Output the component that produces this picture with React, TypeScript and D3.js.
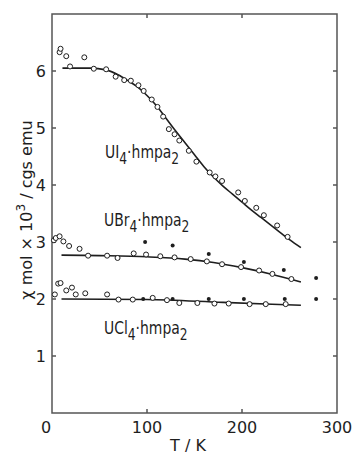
import React, { useEffect, useRef } from "react";
import * as d3 from "d3";

// UI4·hmpa2 measured points (T in K, chi x 10^3 cgs emu)
const uiT = [8, 9, 15, 19, 34, 44, 57, 67, 76, 83, 91, 96.5, 105, 111, 117, 123, 129, 134, 144, 152, 166, 172, 179, 196, 203, 215, 223, 237, 248];
const uiV = [6.33, 6.39, 6.26, 6.08, 6.24, 6.04, 6.03, 5.9, 5.84, 5.83, 5.75, 5.65, 5.5, 5.37, 5.2, 4.98, 4.89, 4.78, 4.6, 4.41, 4.22, 4.15, 4.07, 3.87, 3.72, 3.6, 3.47, 3.29, 3.09];
// UI4 fitted curve
const uiFitT = [11, 40, 57, 70, 80, 90, 100, 110, 120, 130, 140, 150, 160, 170, 180, 190, 200, 210, 220, 230, 240, 250, 262];
const uiFitV = [6.05, 6.05, 6.02, 5.93, 5.83, 5.72, 5.57, 5.39, 5.17, 4.95, 4.74, 4.53, 4.32, 4.14, 3.98, 3.84, 3.7, 3.56, 3.43, 3.3, 3.17, 3.04, 2.9];

// UBr4·hmpa2 open circles
const ubrT = [2, 4, 8, 12, 18, 29, 38, 58, 69, 86, 99, 114, 129, 146, 163, 179, 199, 218, 232, 252];
const ubrV = [3.03, 3.07, 3.1, 3.01, 2.93, 2.88, 2.76, 2.76, 2.72, 2.8, 2.78, 2.75, 2.73, 2.7, 2.66, 2.61, 2.56, 2.5, 2.44, 2.35];
// UBr4 filled dots
const ubrDotT = [98, 127, 165, 202, 244, 278];
const ubrDotV = [3.0, 2.94, 2.79, 2.65, 2.51, 2.37];
const ubrFitT = [10, 60, 100, 140, 170, 200, 230, 262];
const ubrFitV = [2.77, 2.76, 2.74, 2.7, 2.64, 2.55, 2.44, 2.3];

// UCl4·hmpa2 open circles
const uclT = [3, 6.5, 9, 15, 21, 25, 35, 58, 70, 85, 106, 121, 134, 153, 171, 186, 208, 225, 246];
const uclV = [2.08, 2.27, 2.28, 2.15, 2.2, 2.08, 2.1, 2.08, 1.99, 1.99, 2.02, 1.98, 1.93, 1.93, 1.92, 1.92, 1.91, 1.91, 1.91];
const uclDotT = [96, 127, 165, 202, 245, 278];
const uclDotV = [2.0, 2.0, 2.0, 2.0, 2.0, 2.0];
const uclFitT = [10, 100, 180, 262];
const uclFitV = [2.0, 1.99, 1.94, 1.89];

const yTicks = [1, 2, 3, 4, 5, 6];
const xTicks = [0, 100, 200, 300];
const xInnerTicks = [100, 200];

const zip = (a, b) => a.map((t, i) => [t, b[i]]);

export default function App() {
	const svgRef = useRef(null);

	useEffect(() => {
		const W = 352;
		const H = 454;
		const left = 52, right = 337, top = 14, bottom = 413;
		const font = "'DejaVu Sans', sans-serif";
		const ink = "#1e1e1e";

		const svg = d3.select(svgRef.current).attr("width", W).attr("height", H);

		const x = d3.scaleLinear().domain([0, 300]).range([left, right]);
		const y = d3.scaleLinear().domain([0, 7]).range([bottom, top]);

		// frame
		svg.append("rect")
			.attr("x", left)
			.attr("y", top)
			.attr("width", right - left)
			.attr("height", bottom - top)
			.attr("fill", "none")
			.attr("stroke", "#555")
			.attr("stroke-width", 1.5);

		// inward ticks
		yTicks.forEach((t) => {
			svg.append("line").attr("x1", left).attr("x2", left + 4).attr("y1", y(t)).attr("y2", y(t)).attr("stroke", "#555").attr("stroke-width", 1.5);
			svg.append("line").attr("x1", right).attr("x2", right - 4).attr("y1", y(t)).attr("y2", y(t)).attr("stroke", "#555").attr("stroke-width", 1.5);
			svg.append("text")
				.attr("x", left - 6)
				.attr("y", y(t) + 6)
				.attr("text-anchor", "end")
				.attr("font-family", font)
				.attr("font-size", 16)
				.attr("fill", ink)
				.text(t);
		});
		xInnerTicks.forEach((t) => {
			svg.append("line").attr("x1", x(t)).attr("x2", x(t)).attr("y1", bottom).attr("y2", bottom - 4).attr("stroke", "#555").attr("stroke-width", 1.5);
			svg.append("line").attr("x1", x(t)).attr("x2", x(t)).attr("y1", top).attr("y2", top + 4).attr("stroke", "#555").attr("stroke-width", 1.5);
		});
		xTicks.forEach((t) => {
			svg.append("text")
				.attr("x", t === 0 ? x(t) - 6 : x(t))
				.attr("y", bottom + 20)
				.attr("text-anchor", "middle")
				.attr("font-family", font)
				.attr("font-size", 16)
				.attr("fill", ink)
				.text(t);
		});

		// axis titles
		svg.append("text")
			.attr("x", 188)
			.attr("y", 451)
			.attr("text-anchor", "middle")
			.attr("font-family", font)
			.attr("font-size", 16)
			.attr("fill", ink)
			.text("T / K");

		const yl = svg.append("text")
			.attr("transform", "translate(32,210) rotate(-90)")
			.attr("text-anchor", "middle")
			.attr("font-family", font)
			.attr("font-size", 16)
			.attr("fill", ink);
		yl.append("tspan").text("χ mol × 10");
		yl.append("tspan").attr("dy", -7).attr("font-size", 12).text("3");
		yl.append("tspan").attr("dy", 7).text("  /  cgs emu");

		// fitted curves
		const line = d3.line()
			.x((d) => x(d[0]))
			.y((d) => y(d[1]))
			.curve(d3.curveMonotoneX);
		[zip(uiFitT, uiFitV), zip(ubrFitT, ubrFitV), zip(uclFitT, uclFitV)].forEach((d) => {
			svg.append("path")
				.datum(d)
				.attr("d", line)
				.attr("fill", "none")
				.attr("stroke", ink)
				.attr("stroke-width", 1.6);
		});

		// open circles
		[zip(uiT, uiV), zip(ubrT, ubrV), zip(uclT, uclV)].forEach((d) => {
			svg.append("g")
				.selectAll("circle")
				.data(d)
				.join("circle")
				.attr("cx", (p) => x(p[0]))
				.attr("cy", (p) => y(p[1]))
				.attr("r", 2.5)
				.attr("fill", "white")
				.attr("stroke", ink)
				.attr("stroke-width", 1);
		});

		// filled dots
		[zip(ubrDotT, ubrDotV), zip(uclDotT, uclDotV)].forEach((d) => {
			svg.append("g")
				.selectAll("circle")
				.data(d)
				.join("circle")
				.attr("cx", (p) => x(p[0]))
				.attr("cy", (p) => y(p[1]))
				.attr("r", 2)
				.attr("fill", ink);
		});

		// compound labels (condensed by a horizontal scale)
		const labels = [
			{ base: "UI", at: [105, 158] },
			{ base: "UBr", at: [104, 226] },
			{ base: "UCl", at: [104, 334] },
		];
		labels.forEach((l) => {
			const t = svg.append("text")
				.attr("transform", `translate(${l.at[0]},${l.at[1]}) scale(0.82,1)`)
				.attr("font-family", font)
				.attr("font-size", 17)
				.attr("fill", ink);
			t.append("tspan").text(l.base);
			t.append("tspan").attr("dy", 6).attr("font-size", 15).text("4");
			t.append("tspan").attr("dy", -6).text("·hmpa");
			t.append("tspan").attr("dy", 6).attr("font-size", 15).text("2");
		});

		return () => {
			d3.select(svgRef.current).selectAll("*").remove();
		};
	}, []);

	return (
		<div style={{ position: "absolute", left: 0, top: 0 }}>
			<svg ref={svgRef} style={{ display: "block", background: "white" }}></svg>
		</div>
	);
}
